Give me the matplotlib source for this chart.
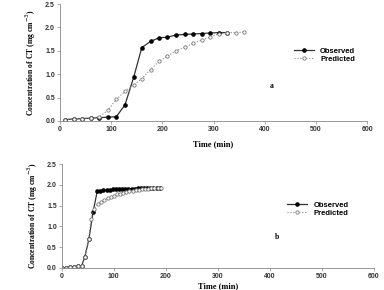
import numpy as np
import matplotlib
matplotlib.use("Agg")
import matplotlib.pyplot as plt

# panel a
t_obs_a = [10, 27, 44, 60, 77, 94, 110, 127, 144, 160, 177, 194, 210, 227, 244, 260, 277, 294, 310, 327]
c_obs_a = [0.03, 0.04, 0.05, 0.06, 0.07, 0.08, 0.09, 0.34, 0.93, 1.57, 1.70, 1.78, 1.79, 1.84, 1.85, 1.86, 1.87, 1.88, 1.89, 1.89]
t_pred_a = [10, 27, 44, 60, 77, 94, 110, 127, 144, 160, 177, 194, 210, 227, 244, 260, 277, 294, 310, 327, 344, 360]
c_pred_a = [0.03, 0.04, 0.05, 0.06, 0.09, 0.23, 0.46, 0.63, 0.77, 0.90, 1.10, 1.28, 1.39, 1.50, 1.58, 1.66, 1.73, 1.80, 1.86, 1.89, 1.89, 1.90]

# panel b
t_obs_b = [0, 8, 16, 24, 32, 38, 44, 52, 60, 68, 74, 80, 86, 92, 98, 104, 110, 116, 122, 128,
           134, 140, 146, 152, 158, 164, 170, 176, 182, 188]
c_obs_b = [0.0, 0.01, 0.02, 0.03, 0.04, 0.05, 0.26, 0.69, 1.34, 1.85, 1.86, 1.87, 1.88, 1.88, 1.89, 1.89, 1.90, 1.90, 1.90, 1.91,
           1.91, 1.91, 1.92, 1.92, 1.92, 1.93, 1.93, 1.93, 1.93, 1.93]
t_pred_b = [0, 8, 16, 24, 32, 38, 44, 52, 56, 62, 70, 76, 82, 88, 94, 100, 106, 112, 118, 124,
            130, 136, 142, 148, 154, 160, 166, 172, 178, 184, 190]
c_pred_b = [0.0, 0.01, 0.02, 0.03, 0.04, 0.05, 0.26, 0.69, 1.19, 1.41, 1.55, 1.60, 1.64, 1.68, 1.71, 1.74, 1.77, 1.79, 1.81, 1.83,
            1.85, 1.86, 1.87, 1.88, 1.89, 1.90, 1.91, 1.92, 1.92, 1.93, 1.93]

fig = plt.figure(figsize=(3.84, 2.9), dpi=100)
ax1 = fig.add_axes([0.156, 0.583, 0.80, 0.403])
ax2 = fig.add_axes([0.161, 0.076, 0.813, 0.358])

tickfont = {"family": "Liberation Sans", "weight": "bold", "size": 5}

def style(ax, t_obs, c_obs, t_pred, c_pred, tag, leg_xy, xpad):
    ax.plot(t_obs, c_obs, "-", color="#333333", lw=0.9, marker="o", ms=2.3,
            mfc="black", mec="black", label="Observed")
    ax.plot(t_pred, c_pred, ":", color="#888888", lw=0.8, marker="o", ms=2.4,
            mfc="white", mec="#777777", mew=0.6, label="Predicted")
    ax.set_xlim(0, 600)
    ax.set_ylim(0, 2.5)
    ax.set_xticks([0, 100, 200, 300, 400, 500, 600])
    ax.set_yticks([0.0, 0.5, 1.0, 1.5, 2.0, 2.5])
    ax.set_yticklabels(["0.0", "0.5", "1.0", "1.5", "2.0", "2.5"])
    for s in ["top", "right"]:
        ax.spines[s].set_visible(False)
    for s in ["left", "bottom"]:
        ax.spines[s].set_color("#888888")
        ax.spines[s].set_linewidth(0.6)
    ax.tick_params(length=2, width=0.5, color="#888888", pad=1.5)
    for lab in ax.get_xticklabels() + ax.get_yticklabels():
        lab.set_fontproperties(tickfont)
        lab.set_color("#333333")
    ax.set_xlabel("Time (min)", family="Liberation Serif", weight="bold", size=6, labelpad=xpad)
    ax.set_ylabel("Concentration of CT (mg cm$^{-3}$)", family="Liberation Serif",
                  weight="bold", size=5.5, labelpad=5)
    ax.text(0.69, 0.30, tag, transform=ax.transAxes, family="Liberation Serif",
            weight="bold", size=5.5, ha="center", va="center")
    ax.legend(loc="upper left", bbox_to_anchor=leg_xy, frameon=False,
              prop={"family": "Liberation Sans", "weight": "bold", "size": 5.5},
              handlelength=2.6, handletextpad=0.8, labelspacing=0.1, borderpad=0)

style(ax1, t_obs_a, c_obs_a, t_pred_a, c_pred_a, "a", (0.75, 0.66), 5)
style(ax2, t_obs_b, c_obs_b, t_pred_b, c_pred_b, "b", (0.71, 0.68), 2)

fig.savefig("out.png", dpi=100)
